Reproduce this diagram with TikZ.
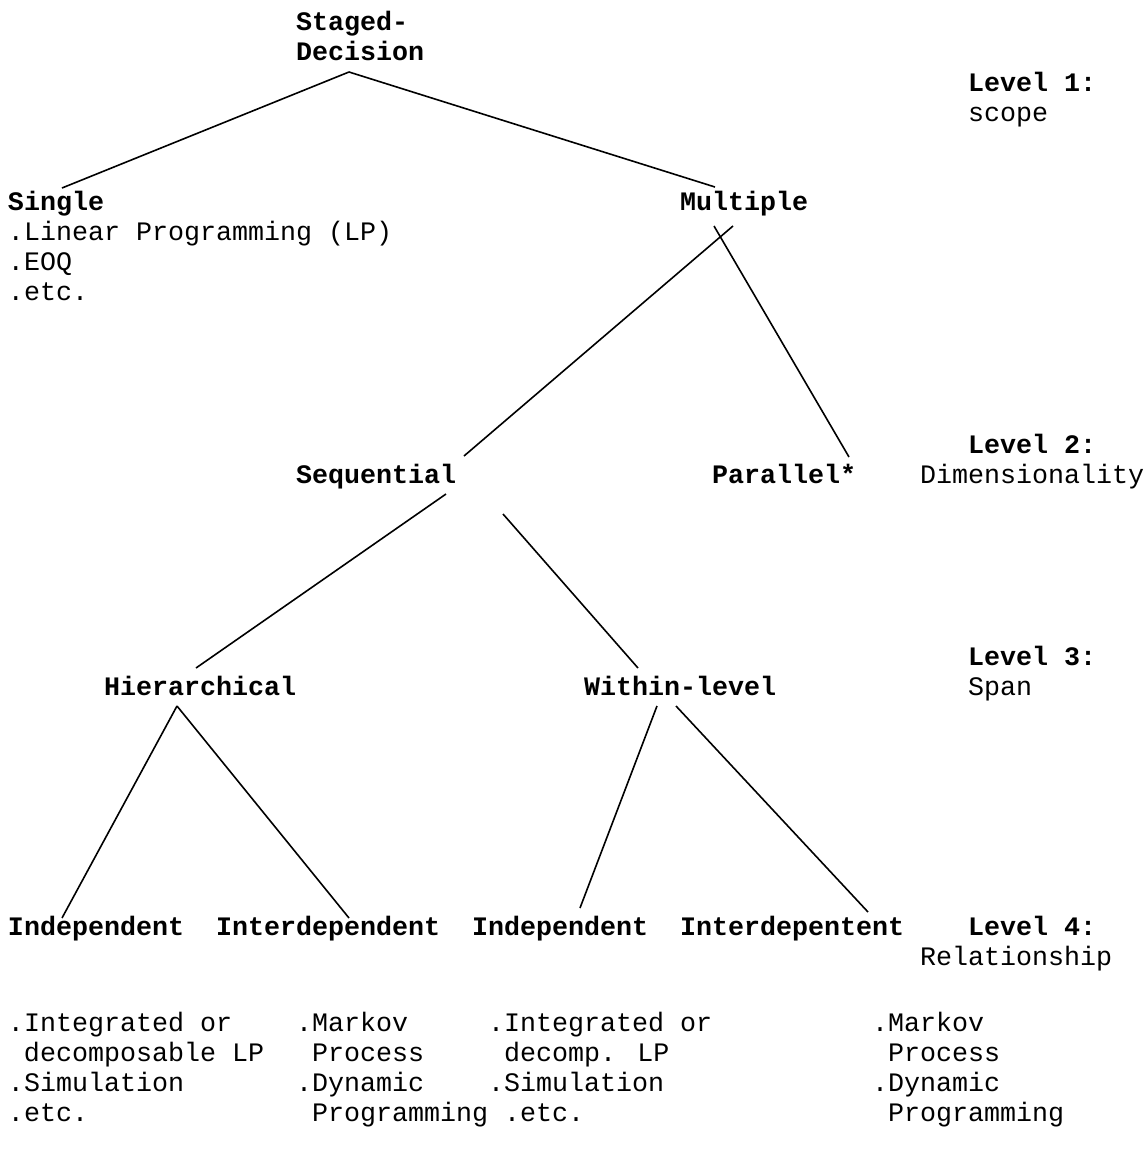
\documentclass[tikz,border=0pt]{standalone}
\usepackage{fontspec}
\setmainfont{Liberation Mono}
\begin{document}
\begin{tikzpicture}[x=1pt,y=-1pt,
  txt/.style={inner sep=0pt,outer sep=0pt,anchor=base west,
    font=\fontsize{26.67}{30.3}\selectfont},
  link/.style={line width=1.6pt,black}]
\useasboundingbox[fill=white] (0,0) rectangle (1144,1152);
\newcommand{\blk}[1]{\begin{tabular}[t]{@{}l@{}}#1\end{tabular}}
\newcommand{\ind}{\hspace*{16pt}}
% level 1
\node[txt] (sd) at (296,30) {\blk{\textbf{Staged-}\\\textbf{Decision}}};
\node[txt] (l1) at (968,91) {\blk{\textbf{Level 1:}\\scope}};
% level 2 row
\node[txt] (single) at (8,210) {\blk{\textbf{Single}\\.Linear Programming (LP)\\.EOQ\\.etc.}};
\node[txt] (multiple) at (680,210) {\textbf{Multiple}};
% dimensionality
\node[txt] (l2) at (920,453) {\blk{\hspace*{48pt}\textbf{Level 2:}\\Dimensionality}};
\node[txt] (seq) at (296,483) {\textbf{Sequential}};
\node[txt] (par) at (712,483) {\textbf{Parallel*}};
% span
\node[txt] (l3) at (968,665) {\blk{\textbf{Level 3:}\\Span}};
\node[txt] (hier) at (104,695) {\textbf{Hierarchical}};
\node[txt] (within) at (584,695) {\textbf{Within-level}};
% relationship
\node[txt] (l4) at (920,935) {\blk{\hspace*{48pt}\textbf{Level 4:}\\Relationship}};
\node[txt] (ind1) at (8,935) {\textbf{Independent}};
\node[txt] (interd1) at (216,935) {\textbf{Interdependent}};
\node[txt] (ind2) at (472,935) {\textbf{Independent}};
\node[txt] (interd2) at (680,935) {\textbf{Interdepentent}};
% method lists
\node[txt] (m1) at (8,1031) {\blk{.Integrated or\\\ind decomposable LP\\.Simulation\\.etc.}};
\node[txt] (m2) at (296,1031) {\blk{.Markov\\\ind Process\\.Dynamic\\\ind Programming}};
\node[txt] (m3) at (488,1031) {\blk{.Integrated or\\\ind decomp. LP\\.Simulation\\\ind .etc.}};
\node[txt] (m4) at (872,1031) {\blk{.Markov\\\ind Process\\.Dynamic\\\ind Programming}};
% connectors
\draw[link] ([shift={(53,42)}]sd.base west) -- ([shift={(54,-22)}]single.base west);
\draw[link] ([shift={(53,42)}]sd.base west) -- ([shift={(35,-23)}]multiple.base west);
\draw[link] ([shift={(53,16)}]multiple.base west) -- ([shift={(168,-27)}]seq.base west);
\draw[link] ([shift={(34,16)}]multiple.base west) -- ([shift={(137,-26)}]par.base west);
\draw[link] ([shift={(150,11)}]seq.base west) -- ([shift={(92,-27)}]hier.base west);
\draw[link] ([shift={(207,31)}]seq.base west) -- ([shift={(54,-27)}]within.base west);
\draw[link] ([shift={(73,11)}]hier.base west) -- ([shift={(54,-17)}]ind1.base west);
\draw[link] ([shift={(73,11)}]hier.base west) -- ([shift={(133,-17)}]interd1.base west);
\draw[link] ([shift={(73,11)}]within.base west) -- ([shift={(108,-27)}]ind2.base west);
\draw[link] ([shift={(92,11)}]within.base west) -- ([shift={(188,-23)}]interd2.base west);
\end{tikzpicture}
\end{document}
